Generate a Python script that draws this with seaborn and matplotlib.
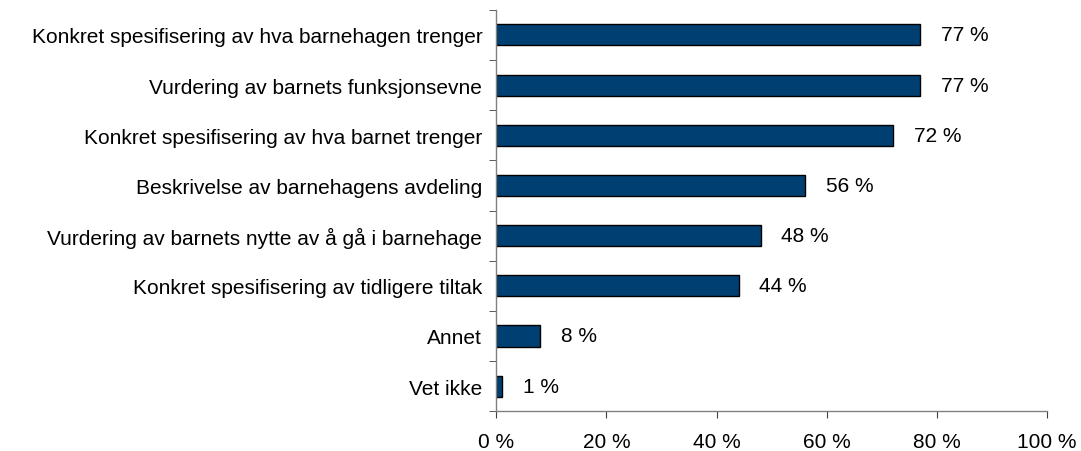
import numpy as np
import pandas as pd
import matplotlib
matplotlib.use('Agg')
import matplotlib.pyplot as plt
from matplotlib.ticker import FixedLocator
import seaborn as sns

kategorier = [
    'Konkret spesifisering av hva barnehagen trenger',
    'Vurdering av barnets funksjonsevne',
    'Konkret spesifisering av hva barnet trenger',
    'Beskrivelse av barnehagens avdeling',
    'Vurdering av barnets nytte av å gå i barnehage',
    'Konkret spesifisering av tidligere tiltak',
    'Annet',
    'Vet ikke',
]
andel = [77, 77, 72, 56, 48, 44, 8, 1]

df = pd.DataFrame({'kategori': kategorier, 'andel': andel})

sns.set_style('white')
plt.rcParams['font.family'] = ['Liberation Sans', 'DejaVu Sans']

fig = plt.figure(figsize=(10.81, 4.52), dpi=100)
ax = fig.add_axes([0.459, 0.088, 0.5097, 0.888])

sns.barplot(data=df, x='andel', y='kategori', orient='h', color='#003F72',
            edgecolor='black', linewidth=1, width=0.42, saturation=1, ax=ax)

for i, v in enumerate(andel):
    ax.annotate(f'{v} %', xy=(v, i), xytext=(15, 0), textcoords='offset points',
                va='center', ha='left', fontsize=15, color='black')

ax.set_xlim(0, 100)
ax.set_ylim(len(kategorier) - 0.5, -0.5)
ax.set_xticks(np.arange(0, 101, 20))
ax.set_xticklabels([f'{t} %' for t in range(0, 101, 20)], fontsize=15)
ax.set_xlabel('')
ax.set_ylabel('')
ax.tick_params(axis='y', which='major', length=0, labelsize=15, pad=10, labelcolor='black')
ax.yaxis.set_minor_locator(FixedLocator(np.arange(-0.5, len(kategorier), 1)))
ax.tick_params(axis='y', which='minor', length=5, direction='out', color='#404040', left=True)
ax.tick_params(axis='x', length=5, direction='out', color='#404040', bottom=True, pad=10,
               labelcolor='black')

for s in ['top', 'right']:
    ax.spines[s].set_visible(False)
for s in ['left', 'bottom']:
    ax.spines[s].set_color('#808080')
    ax.spines[s].set_linewidth(1)

fig.savefig('out.png', dpi=100)
